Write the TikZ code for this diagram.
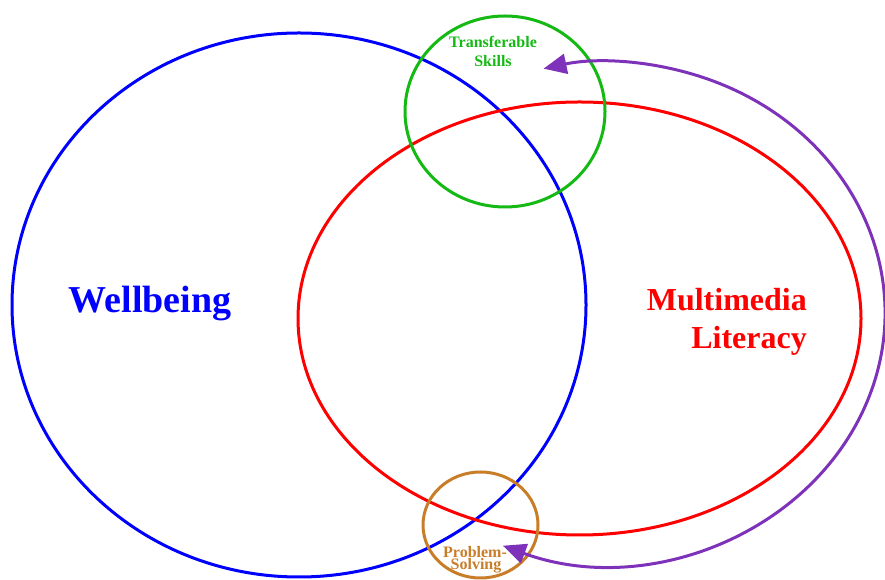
\documentclass[tikz,border=0pt]{standalone}
\usepackage{fontspec}
\setmainfont{Liberation Serif}
\usetikzlibrary{arrows.meta}
\definecolor{cblue}{RGB}{0,0,255}
\definecolor{cred}{RGB}{255,0,0}
\definecolor{cgreen}{RGB}{20,185,20}
\definecolor{corange}{RGB}{200,125,40}
\definecolor{cpurple}{RGB}{125,50,185}
\begin{document}
\begin{tikzpicture}[x=1pt,y=1pt,
  ring/.style={line width=3pt},
  lbl/.style={inner sep=0pt,anchor=base,font=\bfseries},
  big/.style={lbl,font=\bfseries\fontsize{38}{40}\selectfont},
  mid/.style={lbl,anchor=base east,font=\bfseries\fontsize{32}{36}\selectfont},
  small/.style={lbl,font=\bfseries\fontsize{16}{18}\selectfont},
  bigtri/.tip={Triangle[length=23pt,width=20pt]}]
\useasboundingbox (0,0) rectangle (885,580);
% sets
\draw[ring,cblue] (299,275) ellipse[x radius=287,y radius=272];
\draw[ring,cred] (579.5,261.5) ellipse[x radius=281.5,y radius=216.5];
\draw[ring,cgreen] (505,468.5) ellipse[x radius=100,y radius=95.5];
\draw[ring,corange] (480.5,55) ellipse[x radius=57.5,y radius=53];
% labels
\node[big,text=cblue] (well) at (150,267) {Wellbeing};
\node[mid,text=cred] (multi) at (807,269) {Multimedia};
\node[mid,text=cred] (lit) at (807,231) {Literacy};
\node[small,text=cgreen] (trans) at (493,532) {Transferable};
\node[small,text=cgreen] (skills) at (493,513) {Skills};
\node[small,text=corange] (prob) at (475,22) {Problem-};
\node[small,text=corange] (solv) at (476,10) {Solving};
% feedback arc
\coordinate (arcS) at ({607+278*cos(-112)},{267+251*sin(-112)});
\draw[ring,cpurple,bigtri-bigtri]
  (arcS) arc[start angle=-112,end angle=103.2,x radius=278,y radius=251];
\end{tikzpicture}
\end{document}
